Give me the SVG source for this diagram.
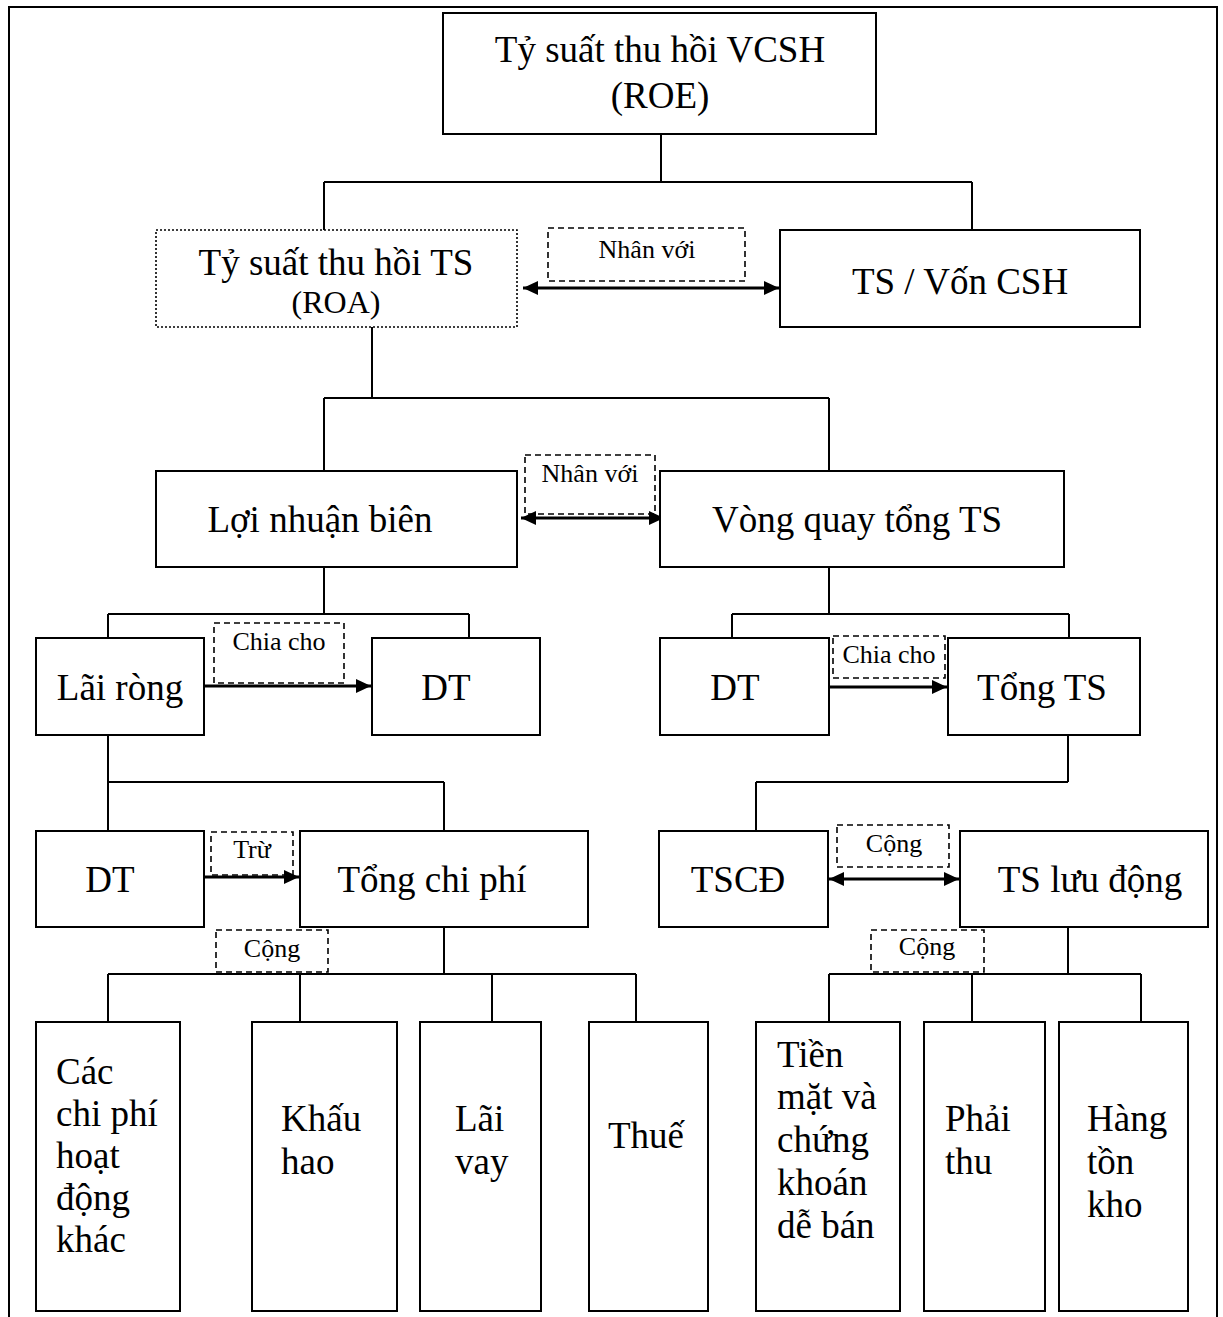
<svg xmlns="http://www.w3.org/2000/svg" width="1223" height="1317" viewBox="0 0 1223 1317">
<style>
.box{fill:#fff;stroke:#000;stroke-width:2}
.dot{fill:#fff;stroke:#000;stroke-width:1.6;stroke-dasharray:2 2}
.lbl{fill:none;stroke:#000;stroke-width:1.6;stroke-dasharray:6 4}
.ln{fill:none;stroke:#000;stroke-width:2}
.ar{fill:none;stroke:#000;stroke-width:3}
text{font-family:"Liberation Serif","Times New Roman",serif;fill:#000}
.t{font-size:37px}
.c{text-anchor:middle}
.s{font-size:26px}
.m{font-size:32px}
</style>
<defs>
<marker id="ah" markerUnits="userSpaceOnUse" markerWidth="16" markerHeight="14" refX="15" refY="7" orient="auto-start-reverse">
<path d="M0,0 L15,7 L0,14 Z" fill="#000"/>
</marker>
</defs>
<rect width="1223" height="1317" fill="#fff"/>
<g id="frame">
<path class="ln" d="M9,1317 V7 H1217 V1317"/>
</g>
<g id="connectors">
<path class="ln" d="M661,134 V182 M324,182 H972 M324,182 V230 M972,182 V230"/>
<path class="ln" d="M372,327 V398 M324,398 H829 M324,398 V471 M829,398 V471"/>
<path class="ln" d="M324,567 V614 M108,614 H469 M108,614 V638 M469,614 V638"/>
<path class="ln" d="M829,567 V614 M732,614 H1069 M732,614 V638 M1069,614 V638"/>
<path class="ln" d="M108,735 V831 M108,782 H444 M444,782 V831"/>
<path class="ln" d="M1068,735 V782 M756,782 H1068 M756,782 V831"/>
<path class="ln" d="M444,927 V974 M108,974 H636 M108,974 V1022 M300,974 V1022 M492,974 V1022 M636,974 V1022"/>
<path class="ln" d="M1068,927 V974 M829,974 H1141 M829,974 V1022 M972,974 V1022 M1141,974 V1022"/>
<line class="ar" x1="523" y1="288" x2="779" y2="288" marker-start="url(#ah)" marker-end="url(#ah)"/>
<line class="ar" x1="521" y1="518" x2="664" y2="518" marker-start="url(#ah)" marker-end="url(#ah)"/>
<line class="ar" x1="205" y1="686" x2="371" y2="686" marker-end="url(#ah)"/>
<line class="ar" x1="829" y1="687" x2="947" y2="687" marker-end="url(#ah)"/>
<line class="ar" x1="204" y1="877" x2="299" y2="877" marker-end="url(#ah)"/>
<line class="ar" x1="829" y1="879" x2="959" y2="879" marker-start="url(#ah)" marker-end="url(#ah)"/>
</g>
<g id="lbl-nhan1"><rect class="lbl" x="548" y="228" width="197" height="53"/><text class="s c" x="647" y="258">Nhân với</text></g>
<g id="lbl-nhan2"><rect class="lbl" x="525" y="455" width="130" height="59"/><text class="s c" x="590" y="482">Nhân với</text></g>
<g id="lbl-chia1"><rect class="lbl" x="214" y="623" width="130" height="60"/><text class="s c" x="279" y="650">Chia cho</text></g>
<g id="lbl-chia2"><rect class="lbl" x="833" y="636" width="112" height="42"/><text class="s c" x="889" y="663">Chia cho</text></g>
<g id="lbl-tru"><rect class="lbl" x="211" y="832" width="82" height="43"/><text class="s c" x="252" y="858">Trừ</text></g>
<g id="lbl-cong1"><rect class="lbl" x="837" y="825" width="112" height="42"/><text class="s c" x="894" y="852">Cộng</text></g>
<g id="lbl-cong2"><rect class="lbl" x="216" y="930" width="112" height="42"/><text class="s c" x="272" y="957">Cộng</text></g>
<g id="lbl-cong3"><rect class="lbl" x="871" y="930" width="113" height="42"/><text class="s c" x="927" y="955">Cộng</text></g>
<g id="roe"><rect class="box" x="443" y="13" width="433" height="121"/><text class="t c" x="660" y="62">Tỷ suất thu hồi VCSH</text><text class="t c" x="660" y="108">(ROE)</text></g>
<g id="roa"><rect class="dot" x="156" y="230" width="361" height="97"/><text class="t c" x="336" y="275">Tỷ suất thu hồi TS</text><text class="m c" x="336" y="313">(ROA)</text></g>
<g id="tsvon"><rect class="box" x="780" y="230" width="360" height="97"/><text class="t c" x="960" y="294">TS / Vốn CSH</text></g>
<g id="loinhuan"><rect class="box" x="156" y="471" width="361" height="96"/><text class="t c" x="320" y="532">Lợi nhuận biên</text></g>
<g id="vongquay"><rect class="box" x="660" y="471" width="404" height="96"/><text class="t c" x="857" y="532">Vòng quay tổng TS</text></g>
<g id="lairong"><rect class="box" x="36" y="638" width="168" height="97"/><text class="t c" x="120" y="700">Lãi ròng</text></g>
<g id="dt1"><rect class="box" x="372" y="638" width="168" height="97"/><text class="t c" x="446" y="700">DT</text></g>
<g id="dt2"><rect class="box" x="660" y="638" width="169" height="97"/><text class="t c" x="735" y="700">DT</text></g>
<g id="tongts"><rect class="box" x="948" y="638" width="192" height="97"/><text class="t c" x="1042" y="700">Tổng TS</text></g>
<g id="dt3"><rect class="box" x="36" y="831" width="168" height="96"/><text class="t c" x="110" y="892">DT</text></g>
<g id="tongcp"><rect class="box" x="300" y="831" width="288" height="96"/><text class="t c" x="432" y="892">Tổng chi phí</text></g>
<g id="tscd"><rect class="box" x="659" y="831" width="169" height="96"/><text class="t c" x="738" y="892">TSCĐ</text></g>
<g id="tsld"><rect class="box" x="960" y="831" width="248" height="96"/><text class="t c" x="1090" y="892">TS lưu động</text></g>
<g id="cpkhac"><rect class="box" x="36" y="1022" width="144" height="289"/><text class="t" x="56" y="1084">Các</text><text class="t" x="56" y="1126">chi phí</text><text class="t" x="56" y="1168">hoạt</text><text class="t" x="56" y="1210">động</text><text class="t" x="56" y="1252">khác</text></g>
<g id="khauhao"><rect class="box" x="252" y="1022" width="145" height="289"/><text class="t" x="281" y="1131">Khấu</text><text class="t" x="281" y="1174">hao</text></g>
<g id="laivay"><rect class="box" x="420" y="1022" width="121" height="289"/><text class="t" x="455" y="1131">Lãi</text><text class="t" x="455" y="1174">vay</text></g>
<g id="thue"><rect class="box" x="589" y="1022" width="119" height="289"/><text class="t" x="608" y="1148">Thuế</text></g>
<g id="tienmat"><rect class="box" x="756" y="1022" width="144" height="289"/><text class="t" x="777" y="1067">Tiền</text><text class="t" x="777" y="1109">mặt và</text><text class="t" x="777" y="1152">chứng</text><text class="t" x="777" y="1195">khoán</text><text class="t" x="777" y="1238">dễ bán</text></g>
<g id="phaithu"><rect class="box" x="924" y="1022" width="121" height="289"/><text class="t" x="945" y="1131">Phải</text><text class="t" x="945" y="1174">thu</text></g>
<g id="hangtonkho"><rect class="box" x="1059" y="1022" width="129" height="289"/><text class="t" x="1087" y="1131">Hàng</text><text class="t" x="1087" y="1174">tồn</text><text class="t" x="1087" y="1217">kho</text></g>
</svg>
